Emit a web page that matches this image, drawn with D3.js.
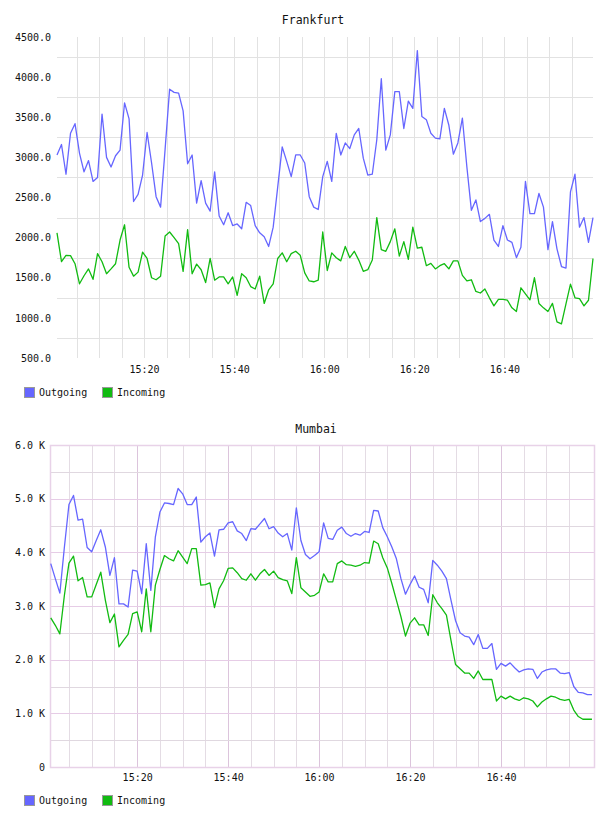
<!DOCTYPE html>
<html>
<head>
<meta charset="utf-8">
<script src="https://cdn.jsdelivr.net/npm/d3@7"></script>
<style>
  body { margin: 0; background: #fff; }
  svg { display: block; }
  text { font-family: "DejaVu Sans Mono", monospace; fill: #111; }
</style>
</head>
<body>
<div id="vis"></div>
<script>
// chart data, one value per minute
const SERIES_NAMES = ["Outgoing", "Incoming"];
const SERIES_COLORS = ["#6666ff", "#11bb11"];

const FRANKFURT_START = [15, 0, 40];
const FRANKFURT_OUT = [
  3030, 3160, 2790, 3300, 3420, 3050, 2820, 2960, 2700, 2750,
  3540, 3000, 2880, 3020, 3090, 3680, 3480, 2450, 2540, 2780,
  3310, 2930, 2510, 2380, 3100, 3850, 3810, 3800, 3580, 2920,
  3030, 2430, 2710, 2430, 2330, 2820, 2270, 2160, 2310, 2150,
  2170, 2110, 2440, 2400, 2150, 2060, 2010, 1890, 2130, 2630,
  3130, 2950, 2760, 3030, 3030, 2930, 2510, 2380, 2350, 2760,
  2950, 2700, 3300, 3030, 3180, 3110, 3280, 3360, 2990, 2780,
  2790, 3220, 3980, 3090, 3280, 3820, 3820, 3360, 3700, 3610,
  4330, 3510, 3470, 3300, 3240, 3230, 3610, 3400, 3040, 3180,
  3490, 2880, 2340, 2470, 2200, 2240, 2290, 1970, 1890, 2150,
  1970, 1940, 1750, 1880, 2700, 2300, 2300, 2550, 2380, 1850,
  2200, 1860, 1640, 1620, 2570, 2790, 2130, 2250, 1940, 2250
];
const FRANKFURT_IN = [
  2060, 1700, 1780, 1775, 1675, 1425, 1525, 1610, 1480, 1800,
  1700, 1550, 1610, 1675, 1970, 2160, 1630, 1520, 1570, 1820,
  1740, 1500, 1475, 1520, 2020, 2070, 2000, 1925, 1580, 2100,
  1550, 1670, 1600, 1440, 1740, 1470, 1510, 1510, 1425, 1510,
  1280, 1550, 1500, 1390, 1360, 1520, 1180, 1350, 1425, 1740,
  1810, 1700, 1800, 1830, 1780, 1560, 1460, 1450, 1470, 2070,
  1590, 1810, 1750, 1710, 1890, 1750, 1830, 1720, 1580, 1600,
  1720, 2250, 1850, 1830, 1950, 2110, 1770, 1950, 1730, 2130,
  1870, 1880, 1650, 1680, 1610, 1650, 1675, 1610, 1710, 1710,
  1530, 1460, 1475, 1330, 1310, 1360, 1250, 1150, 1230, 1230,
  1220, 1125, 1080, 1375, 1300, 1225, 1500, 1180, 1125, 1080,
  1180, 950, 925, 1175, 1420, 1250, 1240, 1150, 1220, 1740
];
const FRANKFURT_TICKS = [500, 1000, 1500, 2000, 2500, 3000, 3500, 4000, 4500];
const FRANKFURT_GRID = [750, 1250, 1750, 2250, 2750, 3250, 3750, 4250];

const MUMBAI_START = [15, 1, 0];
const MUMBAI_OUT = [
  3790, 3510, 3240, 4100, 4890, 5060, 4600, 4620, 4090, 4010,
  4220, 4420, 4100, 3570, 3900, 3040, 3040, 2980, 3670, 3650,
  3230, 4160, 3290, 4290, 4750, 4920, 4910, 4890, 5190, 5090,
  4890, 4890, 5030, 4190, 4290, 4360, 3930, 4420, 4430, 4550,
  4570, 4400, 4350, 4220, 4440, 4430, 4530, 4630, 4440, 4480,
  4360, 4290, 4350, 4040, 4830, 4220, 3960, 3880, 3940, 4010,
  4550, 4260, 4240, 4410, 4470, 4350, 4300, 4350, 4320, 4390,
  4370, 4780, 4770, 4460, 4290, 4100, 3880, 3510, 3220, 3400,
  3560, 3350, 3310, 3060, 3850, 3760, 3650, 3510, 3110, 2730,
  2500, 2440, 2420, 2280, 2470, 2210, 2210, 2300, 1820, 1930,
  1880, 1940, 1850, 1770, 1810, 1830, 1820, 1650, 1770, 1810,
  1830, 1830, 1750, 1740, 1760, 1500, 1390, 1380, 1350, 1350
];
const MUMBAI_IN = [
  2780, 2640, 2480, 3200, 3800, 3930, 3470, 3530, 3170, 3170,
  3400, 3630, 3110, 2690, 2850, 2240, 2360, 2470, 2860, 2890,
  2520, 3320, 2520, 3390, 3680, 3940, 3880, 3840, 4030, 3910,
  3790, 4070, 4070, 3390, 3400, 3430, 2970, 3320, 3470, 3700,
  3710, 3620, 3510, 3480, 3600, 3480, 3600, 3680, 3570, 3650,
  3530, 3490, 3470, 3230, 3900, 3340, 3260, 3180, 3200, 3260,
  3600, 3450, 3450, 3790, 3840, 3770, 3760, 3740, 3760, 3810,
  3800, 4210, 4160, 3900, 3710, 3420, 3110, 2800, 2440, 2680,
  2780, 2650, 2650, 2450, 3210, 3060, 2950, 2830, 2360, 1910,
  1830, 1750, 1750, 1650, 1790, 1630, 1630, 1630, 1230, 1320,
  1270, 1320, 1270, 1240, 1290, 1270, 1230, 1120, 1210, 1270,
  1320, 1300, 1260, 1240, 1260, 1060, 940, 890, 890, 890
];
const MUMBAI_TICKS = [0, 1000, 2000, 3000, 4000, 5000, 6000];

const W = 608, H = 816;
const svg = d3.select("#vis").append("svg").attr("width", W).attr("height", H);

function minutes(start, n) {
  // one timestamp per minute
  const t0 = new Date(2020, 0, 1, start[0], start[1], start[2]);
  return d3.range(n).map(i => d3.timeMinute.offset(t0, i));
}
const fmtTime = d3.timeFormat("%H:%M");

function drawLegend(y) {
  const lg = svg.append("g").attr("transform", "translate(24," + y + ")");
  SERIES_NAMES.forEach((name, i) => {
    const x = i === 0 ? 0 : 78;
    lg.append("rect").attr("x", x + 0.5).attr("y", 0.5).attr("width", 10).attr("height", 10)
      .attr("fill", SERIES_COLORS[i]).attr("stroke", "#999");
    lg.append("text").attr("x", x + 15).attr("y", 9).attr("font-size", "10px").text(name);
  });
}

function drawLines(g, times, series, X, Y) {
  const line = d3.line().x((d, i) => X(times[i])).y(d => Y(d));
  series.forEach((vals, k) => {
    g.append("path").datum(vals).attr("d", line)
      .attr("fill", "none").attr("stroke", SERIES_COLORS[k]).attr("stroke-width", 1.3)
      .attr("stroke-linejoin", "round");
  });
}

// ---------- Frankfurt ----------
{
  const left = 57, right = 593, top = 37, bottom = 358;
  const times = minutes(FRANKFURT_START, FRANKFURT_OUT.length);
  const X = d3.scaleTime().domain([times[0], times[times.length - 1]]).range([left, right]);
  const Y = d3.scaleLinear().domain([500, 4500]).range([bottom, top]);

  svg.append("text").attr("x", 313).attr("y", 24).attr("text-anchor", "middle")
    .attr("font-size", "11.5px").text("Frankfurt");

  const grid = svg.append("g").attr("stroke", "#e2e2e2").attr("stroke-width", 1);
  grid.selectAll(".v").data(X.ticks(d3.timeMinute.every(5))).enter().append("line")
    .attr("x1", d => Math.round(X(d)) + 0.5).attr("x2", d => Math.round(X(d)) + 0.5)
    .attr("y1", top).attr("y2", bottom);
  grid.selectAll(".h").data(FRANKFURT_GRID).enter().append("line")
    .attr("x1", left).attr("x2", right)
    .attr("y1", d => Math.round(Y(d)) + 0.5).attr("y2", d => Math.round(Y(d)) + 0.5);

  const yAxis = svg.append("g").attr("transform", "translate(51,0)")
    .call(d3.axisLeft(Y).tickValues(FRANKFURT_TICKS).tickSize(0).tickPadding(0)
      .tickFormat(d => d3.format(".1f")(d)));
  yAxis.select(".domain").remove();
  yAxis.selectAll("text").attr("font-size", "10px").attr("font-family", "DejaVu Sans Mono");

  const xAxis = svg.append("g").attr("transform", "translate(0,366)")
    .call(d3.axisBottom(X).ticks(d3.timeMinute.every(20)).tickSize(0).tickPadding(0)
      .tickFormat(fmtTime));
  xAxis.select(".domain").remove();
  xAxis.selectAll("text").attr("font-size", "10px").attr("font-family", "DejaVu Sans Mono");

  drawLines(svg.append("g"), times, [FRANKFURT_OUT, FRANKFURT_IN], X, Y);
  drawLegend(387);
}

// ---------- Mumbai ----------
{
  const left = 50, right = 594, top = 445, bottom = 767;
  const times = minutes(MUMBAI_START, MUMBAI_OUT.length);
  const X = d3.scaleTime()
    .domain([new Date(2020, 0, 1, 15, 0, 50), new Date(2020, 0, 1, 17, 0, 27)])
    .range([left, right]);
  const Y = d3.scaleLinear().domain([0, 6000]).range([bottom, top]);

  svg.append("text").attr("x", 316).attr("y", 433).attr("text-anchor", "middle")
    .attr("font-size", "11.5px").text("Mumbai");

  const grid = svg.append("g").attr("stroke-width", 1);
  const vt = X.ticks(d3.timeMinute.every(5)).filter(d => X(d) > left + 3 && X(d) < right - 3);
  grid.selectAll(".v").data(vt).enter().append("line")
    .attr("x1", d => Math.round(X(d)) + 0.5).attr("x2", d => Math.round(X(d)) + 0.5)
    .attr("y1", top).attr("y2", bottom)
    .attr("stroke", d => d.getMinutes() % 20 === 0 ? "#dcc4dc" : "#e4dce4");
  grid.selectAll(".h").data(d3.range(500, 6000, 500)).enter().append("line")
    .attr("x1", left).attr("x2", right)
    .attr("y1", d => Math.round(Y(d)) + 0.5).attr("y2", d => Math.round(Y(d)) + 0.5)
    .attr("stroke", d => d % 1000 === 0 ? "#e6cce6" : "#e0d8e0");
  svg.append("rect").attr("x", left + 0.5).attr("y", top + 0.5)
    .attr("width", right - left).attr("height", bottom - top)
    .attr("fill", "none").attr("stroke", "#e8d2e8").attr("stroke-width", 1.5);

  const yAxis = svg.append("g").attr("transform", "translate(45,0)")
    .call(d3.axisLeft(Y).tickValues(MUMBAI_TICKS).tickSize(0).tickPadding(0)
      .tickFormat(d => d === 0 ? "0" : d3.format(".1f")(d / 1000) + " K"));
  yAxis.select(".domain").remove();
  yAxis.selectAll("text").attr("font-size", "10px").attr("font-family", "DejaVu Sans Mono");

  const labelTimes = X.ticks(d3.timeMinute.every(20)).filter(d => X(d) < right - 10);
  const xAxis = svg.append("g").attr("transform", "translate(0,774)")
    .call(d3.axisBottom(X).tickValues(labelTimes).tickSize(0).tickPadding(0)
      .tickFormat(fmtTime));
  xAxis.select(".domain").remove();
  xAxis.selectAll("text").attr("font-size", "10px").attr("font-family", "DejaVu Sans Mono");

  drawLines(svg.append("g"), times, [MUMBAI_OUT, MUMBAI_IN], X, Y);
  drawLegend(795);
}
</script>
</body>
</html>
